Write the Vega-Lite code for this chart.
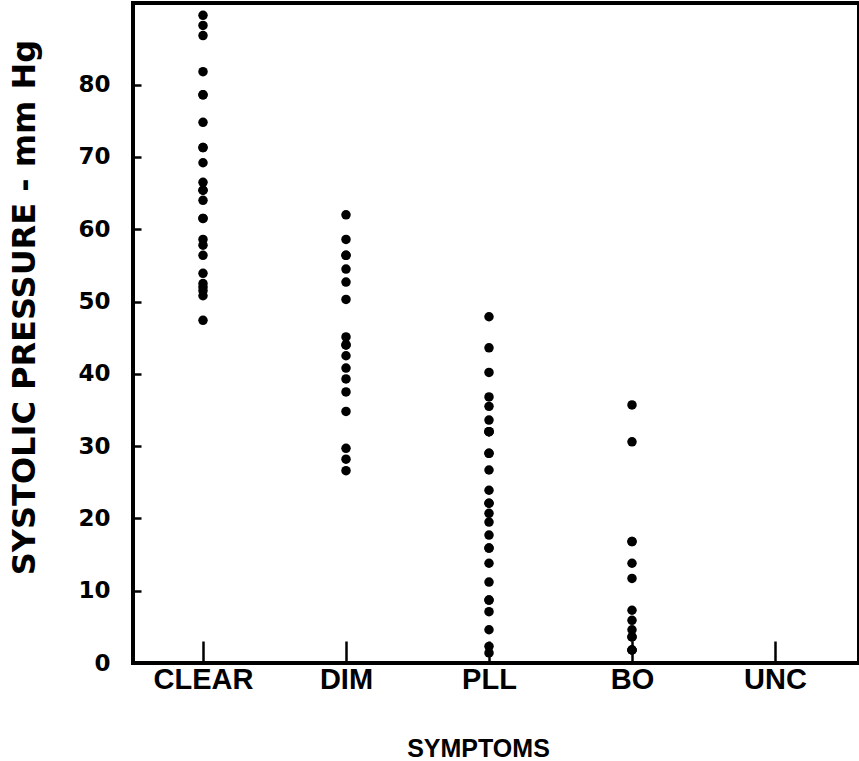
{
  "$schema": "https://vega.github.io/schema/vega-lite/v6.json",
  "width": 726,
  "height": 660,
  "autosize": {"type": "none"},
  "padding": {"left": 133, "top": 3, "right": 0, "bottom": 98},
  "background": "white",
  "config": {
    "view": {"stroke": "black", "strokeWidth": 4},
    "axis": {"domainColor": "black", "domainWidth": 3, "tickColor": "black", "tickWidth": 2.5, "labelColor": "black", "titleColor": "black", "grid": false}
  },
  "data": {
    "values": [
      {"symptom": "CLEAR", "pressure": 89.6},
      {"symptom": "CLEAR", "pressure": 88.2},
      {"symptom": "CLEAR", "pressure": 86.8},
      {"symptom": "CLEAR", "pressure": 81.8},
      {"symptom": "CLEAR", "pressure": 78.6},
      {"symptom": "CLEAR", "pressure": 78.6},
      {"symptom": "CLEAR", "pressure": 74.8},
      {"symptom": "CLEAR", "pressure": 71.3},
      {"symptom": "CLEAR", "pressure": 71.3},
      {"symptom": "CLEAR", "pressure": 69.2},
      {"symptom": "CLEAR", "pressure": 66.5},
      {"symptom": "CLEAR", "pressure": 65.4},
      {"symptom": "CLEAR", "pressure": 65.4},
      {"symptom": "CLEAR", "pressure": 64.0},
      {"symptom": "CLEAR", "pressure": 61.5},
      {"symptom": "CLEAR", "pressure": 61.5},
      {"symptom": "CLEAR", "pressure": 58.6},
      {"symptom": "CLEAR", "pressure": 57.8},
      {"symptom": "CLEAR", "pressure": 56.4},
      {"symptom": "CLEAR", "pressure": 53.9},
      {"symptom": "CLEAR", "pressure": 52.5},
      {"symptom": "CLEAR", "pressure": 52.0},
      {"symptom": "CLEAR", "pressure": 51.5},
      {"symptom": "CLEAR", "pressure": 50.8},
      {"symptom": "CLEAR", "pressure": 47.4},
      {"symptom": "DIM", "pressure": 62.0},
      {"symptom": "DIM", "pressure": 58.6},
      {"symptom": "DIM", "pressure": 56.4},
      {"symptom": "DIM", "pressure": 56.4},
      {"symptom": "DIM", "pressure": 54.5},
      {"symptom": "DIM", "pressure": 52.7},
      {"symptom": "DIM", "pressure": 50.3},
      {"symptom": "DIM", "pressure": 45.1},
      {"symptom": "DIM", "pressure": 44.0},
      {"symptom": "DIM", "pressure": 44.0},
      {"symptom": "DIM", "pressure": 42.5},
      {"symptom": "DIM", "pressure": 40.8},
      {"symptom": "DIM", "pressure": 39.3},
      {"symptom": "DIM", "pressure": 37.5},
      {"symptom": "DIM", "pressure": 34.8},
      {"symptom": "DIM", "pressure": 29.7},
      {"symptom": "DIM", "pressure": 28.2},
      {"symptom": "DIM", "pressure": 26.6},
      {"symptom": "PLL", "pressure": 47.9},
      {"symptom": "PLL", "pressure": 43.6},
      {"symptom": "PLL", "pressure": 40.2},
      {"symptom": "PLL", "pressure": 36.8},
      {"symptom": "PLL", "pressure": 35.5},
      {"symptom": "PLL", "pressure": 33.6},
      {"symptom": "PLL", "pressure": 32.0},
      {"symptom": "PLL", "pressure": 32.0},
      {"symptom": "PLL", "pressure": 32.0},
      {"symptom": "PLL", "pressure": 29.0},
      {"symptom": "PLL", "pressure": 29.0},
      {"symptom": "PLL", "pressure": 26.7},
      {"symptom": "PLL", "pressure": 23.9},
      {"symptom": "PLL", "pressure": 22.1},
      {"symptom": "PLL", "pressure": 22.1},
      {"symptom": "PLL", "pressure": 20.7},
      {"symptom": "PLL", "pressure": 19.5},
      {"symptom": "PLL", "pressure": 17.7},
      {"symptom": "PLL", "pressure": 15.9},
      {"symptom": "PLL", "pressure": 15.9},
      {"symptom": "PLL", "pressure": 13.8},
      {"symptom": "PLL", "pressure": 11.2},
      {"symptom": "PLL", "pressure": 8.7},
      {"symptom": "PLL", "pressure": 8.7},
      {"symptom": "PLL", "pressure": 7.1},
      {"symptom": "PLL", "pressure": 4.6},
      {"symptom": "PLL", "pressure": 2.3},
      {"symptom": "PLL", "pressure": 1.4},
      {"symptom": "BO", "pressure": 35.7},
      {"symptom": "BO", "pressure": 30.6},
      {"symptom": "BO", "pressure": 16.8},
      {"symptom": "BO", "pressure": 16.8},
      {"symptom": "BO", "pressure": 13.8},
      {"symptom": "BO", "pressure": 11.7},
      {"symptom": "BO", "pressure": 7.3},
      {"symptom": "BO", "pressure": 5.9},
      {"symptom": "BO", "pressure": 4.6},
      {"symptom": "BO", "pressure": 3.6},
      {"symptom": "BO", "pressure": 3.6},
      {"symptom": "BO", "pressure": 1.8},
      {"symptom": "BO", "pressure": 1.8},
      {"symptom": "BO", "pressure": 1.8}
    ]
  },
  "mark": {"type": "circle", "color": "black", "opacity": 1, "size": 90},
  "encoding": {
    "x": {
      "field": "symptom",
      "type": "nominal",
      "scale": {"type": "point", "domain": ["CLEAR", "DIM", "PLL", "BO", "UNC"], "range": [70, 642], "padding": 0},
      "axis": {
        "title": "SYMPTOMS",
        "labelAngle": 0,
        "tickSize": -22,
        "labelFont": "Liberation Sans",
        "labelFontWeight": "bold",
        "labelFontSize": 29,
        "labelPadding": 24,
        "titleFont": "Liberation Sans",
        "titleFontWeight": "bold",
        "titleFontSize": 25,
        "titlePadding": 42,
        "titleX": 345
      }
    },
    "y": {
      "field": "pressure",
      "type": "quantitative",
      "scale": {"domain": [0, 91.3], "nice": false},
      "axis": {
        "title": "SYSTOLIC PRESSURE - mm Hg",
        "values": [0, 10, 20, 30, 40, 50, 60, 70, 80],
        "tickSize": -8,
        "labelFont": "DejaVu Sans",
        "labelFontWeight": "bold",
        "labelFontSize": 23,
        "labelPadding": 31,
        "titleFont": "DejaVu Sans",
        "titleFontWeight": "bold",
        "titleFontSize": 32,
        "titleBaseline": "middle",
        "titleX": -109,
        "titleY": 304
      }
    }
  }
}
